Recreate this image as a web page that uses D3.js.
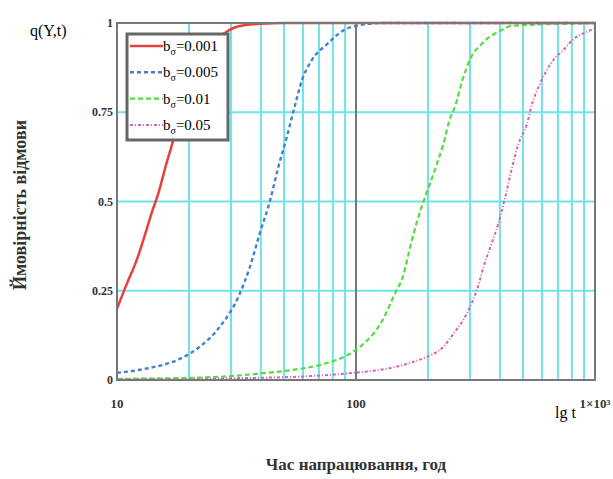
<!DOCTYPE html>
<html>
<head>
<meta charset="utf-8">
<script src="https://cdn.jsdelivr.net/npm/d3@7"></script>
<style>
  body { margin: 0; background: #fff; }
  text { font-family: "Liberation Serif", "DejaVu Serif", serif; }
</style>
</head>
<body>
<div id="chart"></div>
<script>
// time points, hours
const tRed = [10, 11, 12, 13, 14, 15, 16, 17, 18, 20, 22, 25, 28, 32, 40, 50, 100, 1000];
const qRed = [0.20, 0.27, 0.33, 0.40, 0.47, 0.53, 0.60, 0.66, 0.72, 0.81, 0.88, 0.94, 0.97, 0.99, 0.998, 1, 1, 1];

const tBlue = [10, 13.5, 18.3, 22.2, 27, 32.2, 36, 39.7, 43.7, 47.3, 51.3, 55.5, 59.3, 65, 75.5, 90, 100, 130, 1000];
const qBlue = [0.02, 0.033, 0.059, 0.093, 0.15, 0.233, 0.317, 0.414, 0.503, 0.596, 0.68, 0.768, 0.838, 0.894, 0.94, 0.982, 0.992, 1, 1];

const tGreen = [10, 25, 40.9, 53.8, 70.5, 94.5, 107, 128, 145.5, 157, 171, 188, 198, 218, 232, 247, 260, 281, 300, 340, 401, 450, 1000];
const qGreen = [0.003, 0.008, 0.019, 0.028, 0.042, 0.074, 0.10, 0.163, 0.242, 0.289, 0.39, 0.484, 0.526, 0.605, 0.661, 0.731, 0.768, 0.847, 0.898, 0.945, 0.978, 0.992, 1];

const tPink = [10, 30, 60, 97, 138, 174, 198, 232, 256, 281, 300, 320, 345, 369, 394, 421, 447, 478, 519, 545, 588, 626, 681, 727, 810, 945, 1000];
const qPink = [0.003, 0.005, 0.01, 0.02, 0.033, 0.051, 0.065, 0.093, 0.13, 0.168, 0.205, 0.251, 0.326, 0.382, 0.438, 0.512, 0.587, 0.661, 0.717, 0.773, 0.829, 0.866, 0.903, 0.92, 0.954, 0.978, 0.985];

const seriesNames = ["0.001", "0.005", "0.01", "0.05"];
const xTicks = [10, 100, 1000];
const xTickLabels = ["10", "100", "1×10³"];
const yTicks = [0, 0.25, 0.5, 0.75, 1];
const yTickLabels = ["0", "0.25", "0.5", "0.75", "1"];

const width = 613, height = 479;
const margin = { top: 23, right: 18, bottom: 99, left: 117 };

const svg = d3.select('#chart')
	.append('svg')
	.attr('width', width)
	.attr('height', height);

const x = d3.scaleLog().domain([10, 1000]).range([margin.left, width - margin.right]);
const y = d3.scaleLinear().domain([0, 1]).range([height - margin.bottom, margin.top]);

// grid lines
const minorX = [];
[10, 100].forEach(d => { for (let k = 2; k <= 9; k++) minorX.push(d * k); });

svg.append('g')
	.selectAll('line')
	.data(minorX)
	.join('line')
	.attr('x1', d => x(d)).attr('x2', d => x(d))
	.attr('y1', y(0)).attr('y2', y(1))
	.style('stroke', '#6fe3ea')
	.style('stroke-width', 2);

svg.append('g')
	.selectAll('line')
	.data([0.25, 0.5, 0.75])
	.join('line')
	.attr('x1', x(10)).attr('x2', x(1000))
	.attr('y1', d => y(d)).attr('y2', d => y(d))
	.style('stroke', '#6fe3ea')
	.style('stroke-width', 2);

// decade line at 100
svg.append('line')
	.attr('x1', x(100)).attr('x2', x(100))
	.attr('y1', y(0)).attr('y2', y(1))
	.style('stroke', '#777')
	.style('stroke-width', 2);

// curves
const line = d3.line().x(d => x(d[0])).y(d => y(d[1]));
const series = [
	{ t: tPink, q: qPink, color: '#d95fb2', dash: '3,2,1,2', width: 2 },
	{ t: tGreen, q: qGreen, color: '#52dd40', dash: '5,3', width: 2.2 },
	{ t: tBlue, q: qBlue, color: '#4580cc', dash: '4,3', width: 2.4 },
	{ t: tRed, q: qRed, color: '#e8403a', dash: null, width: 2.5 }
];

series.forEach(s => {
	svg.append('path')
		.datum(d3.zip(s.t, s.q))
		.attr('d', line.curve(d3.curveMonotoneX))
		.style('fill', 'none')
		.style('stroke', s.color)
		.style('stroke-width', s.width)
		.style('stroke-dasharray', s.dash);
});

// frame
svg.append('rect')
	.attr('x', x(10)).attr('y', y(1))
	.attr('width', x(1000) - x(10))
	.attr('height', y(0) - y(1))
	.style('fill', 'none')
	.style('stroke', '#777')
	.style('stroke-width', 2);

// tick labels
svg.append('g')
	.selectAll('text')
	.data(yTicks)
	.join('text')
	.attr('x', x(10) - 4)
	.attr('y', d => y(d) + 4)
	.attr('text-anchor', 'end')
	.style('font-size', '12px')
	.style('font-weight', 'bold')
	.style('fill', '#333')
	.text((d, i) => yTickLabels[i]);

svg.append('g')
	.selectAll('text')
	.data(xTicks)
	.join('text')
	.attr('x', d => x(d))
	.attr('y', y(0) + 28)
	.attr('text-anchor', 'middle')
	.style('font-size', '13px')
	.style('font-weight', 'bold')
	.style('fill', '#333')
	.text((d, i) => xTickLabels[i]);

// axis titles
svg.append('text')
	.attr('x', 30).attr('y', 36)
	.style('font-size', '16px')
	.text('q(Y,t)');

svg.append('text')
	.attr('x', 555).attr('y', 418)
	.style('font-size', '16px')
	.text('lg t');

svg.append('text')
	.attr('x', 356).attr('y', 470)
	.attr('text-anchor', 'middle')
	.style('font-size', '17px')
	.style('font-weight', 'bold')
	.style('fill', '#333')
	.text('Час напрацювання, год');

svg.append('text')
	.attr('transform', 'translate(26,205) rotate(-90)')
	.attr('text-anchor', 'middle')
	.style('font-size', '18px')
	.style('font-weight', 'bold')
	.style('fill', '#333')
	.text('Ймовірність відмови');

// legend
const legend = svg.append('g').attr('transform', 'translate(127,34)');
legend.append('rect')
	.attr('width', 101).attr('height', 106)
	.style('fill', '#fff')
	.style('stroke', '#666')
	.style('stroke-width', 3);

const legendSeries = series.slice().reverse();
legendSeries.forEach((s, i) => {
	const ly = 12 + i * 26.3;
	legend.append('line')
		.attr('x1', 3).attr('x2', 36)
		.attr('y1', ly).attr('y2', ly)
		.style('stroke', s.color)
		.style('stroke-width', s.width)
		.style('stroke-dasharray', s.dash);
	const tx = legend.append('text')
		.attr('x', 36).attr('y', ly + 5)
		.style('font-size', '15px');
	tx.append('tspan').text('b');
	tx.append('tspan').attr('dy', 4).style('font-size', '10px').text('σ');
	tx.append('tspan').attr('dy', -4).text('=' + seriesNames[i]);
});
</script>
</body>
</html>
